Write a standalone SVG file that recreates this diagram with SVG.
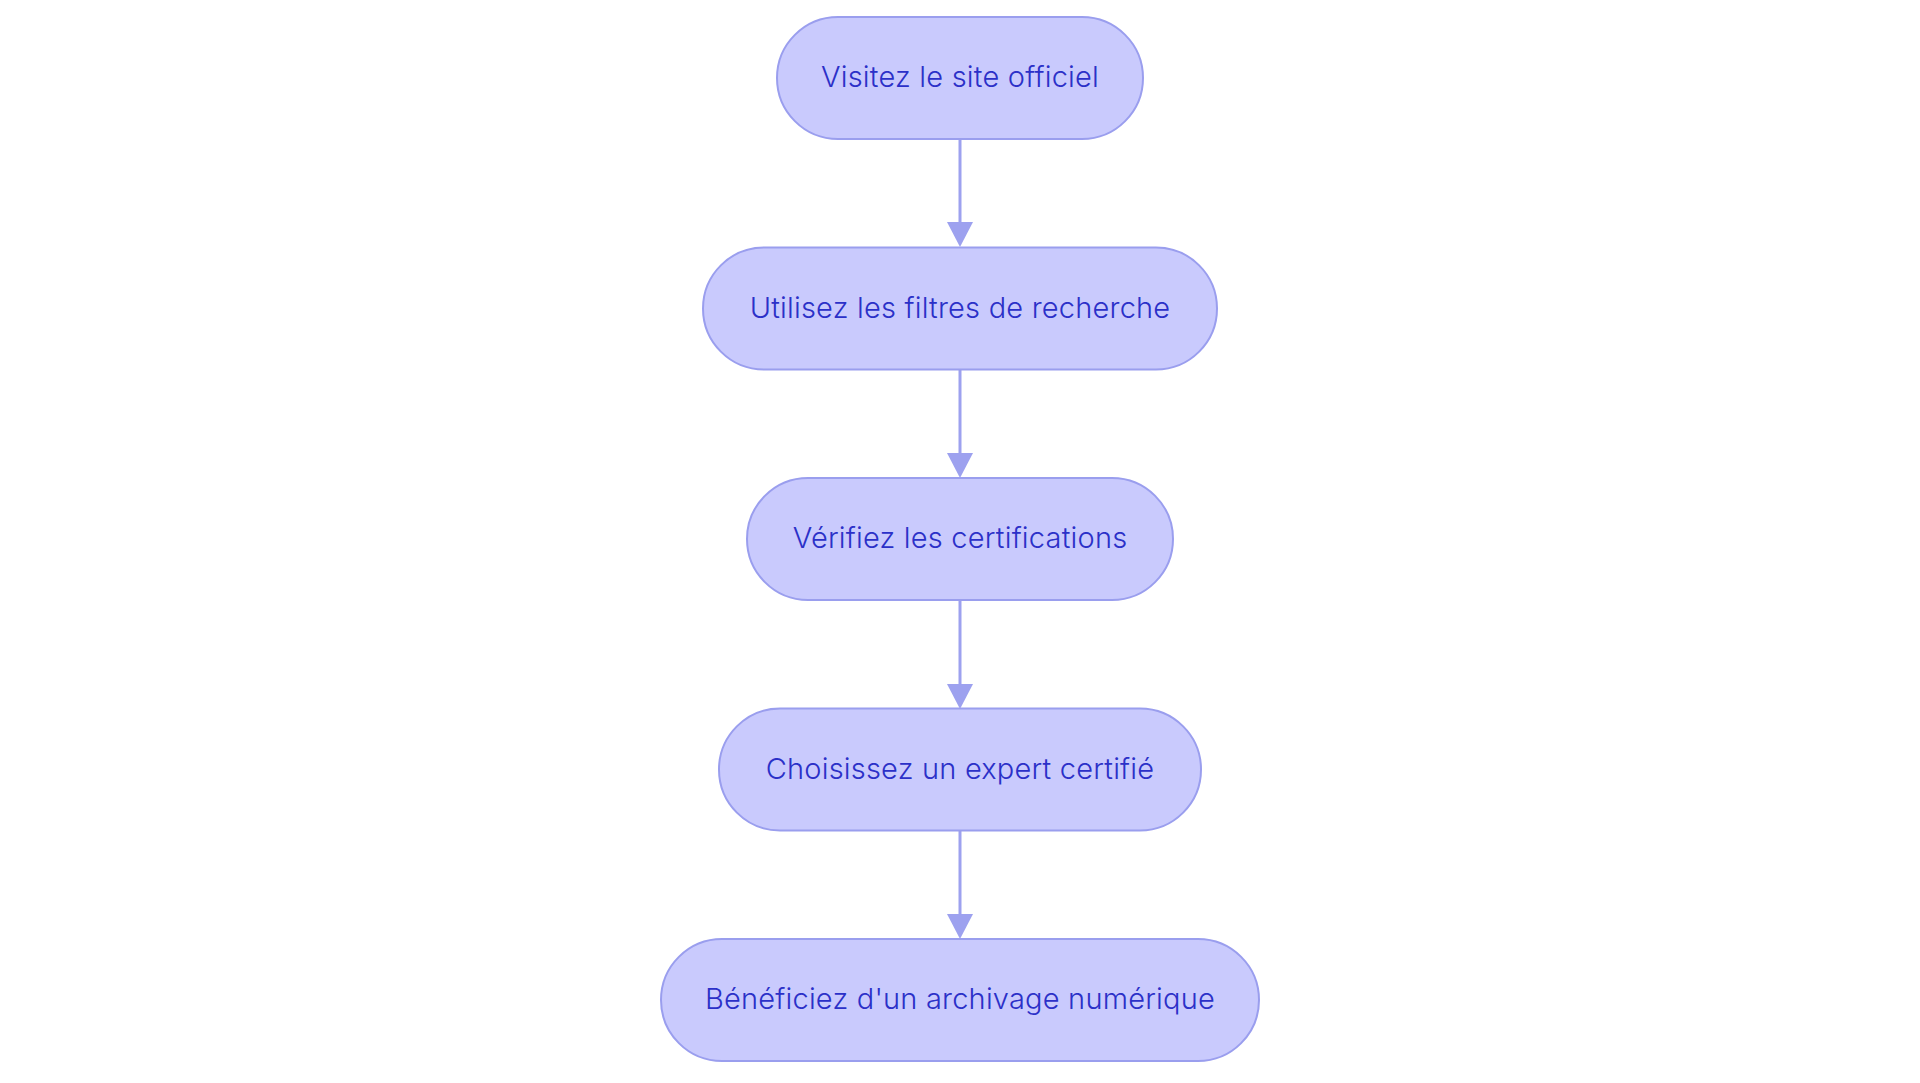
<svg xmlns="http://www.w3.org/2000/svg" width="1920" height="1083" viewBox="0 0 1920 1083">
<style>
.node rect{fill:#C9CAFD;stroke:#9A9EEE;stroke-width:2}
.node text{font-family:Inter,"Noto Sans","DejaVu Sans",sans-serif;font-size:29px;font-weight:300;letter-spacing:0.2px;fill:#2B30C8;text-anchor:middle}
.edge{stroke:#9DA1EF;stroke-width:3;fill:none}
.head{fill:#9DA1EF}
</style>
<rect width="1920" height="1083" fill="#FFFFFF"/>
<g id="connectors">
<line class="edge" x1="960" y1="139" x2="960" y2="222"/>
<path class="head" d="M947 222 L973 222 L960 247 Z"/>
<line class="edge" x1="960" y1="370" x2="960" y2="453"/>
<path class="head" d="M947 453 L973 453 L960 478 Z"/>
<line class="edge" x1="960" y1="600" x2="960" y2="684"/>
<path class="head" d="M947 684 L973 684 L960 709 Z"/>
<line class="edge" x1="960" y1="831" x2="960" y2="914"/>
<path class="head" d="M947 914 L973 914 L960 939 Z"/>
</g>
<g id="node1" class="node">
<rect x="777" y="17" width="366" height="122" rx="61" ry="61"/>
<text x="960" y="87">Visitez le site officiel</text>
</g>
<g id="node2" class="node">
<rect x="703" y="247.5" width="514" height="122" rx="61" ry="61"/>
<text x="960" y="317.5">Utilisez les filtres de recherche</text>
</g>
<g id="node3" class="node">
<rect x="747" y="478" width="426" height="122" rx="61" ry="61"/>
<text x="960" y="548">Vérifiez les certifications</text>
</g>
<g id="node4" class="node">
<rect x="719" y="708.5" width="482" height="122" rx="61" ry="61"/>
<text x="960" y="778.5">Choisissez un expert certifié</text>
</g>
<g id="node5" class="node">
<rect x="661" y="939" width="598" height="122" rx="61" ry="61"/>
<text x="960" y="1009">Bénéficiez d'un archivage numérique</text>
</g>
</svg>
